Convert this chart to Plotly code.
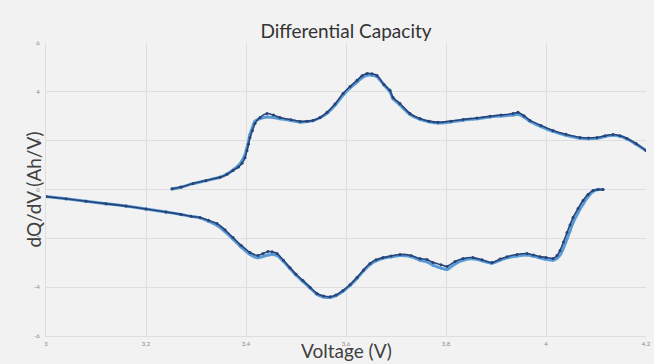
import plotly.graph_objects as go

# Charge (upper) curve, cycle A (dark) and cycle B (light)
charge_v = [3.252, 3.27, 3.294, 3.32, 3.348, 3.362, 3.374, 3.385, 3.392, 3.398, 3.402, 3.405, 3.408, 3.413, 3.418,
            3.428, 3.442, 3.455, 3.468, 3.49, 3.508, 3.522, 3.534, 3.548, 3.562, 3.578, 3.594, 3.608, 3.622,
            3.632, 3.642, 3.652, 3.662, 3.676, 3.688, 3.694, 3.708, 3.728, 3.748, 3.766, 3.784, 3.81, 3.834,
            3.862, 3.888, 3.91, 3.934, 3.944, 3.956, 3.968, 3.99, 4.014, 4.04, 4.068, 4.085, 4.102, 4.118,
            4.134, 4.148, 4.162, 4.18, 4.2]
charge_a = [0.03, 0.1, 0.25, 0.37, 0.5, 0.62, 0.78, 0.92, 1.07, 1.3, 1.6, 1.85, 2.13, 2.42, 2.7,
            2.95, 3.11, 3.05, 2.95, 2.86, 2.79, 2.8, 2.83, 2.95, 3.16, 3.5, 3.93, 4.22, 4.47,
            4.66, 4.75, 4.74, 4.67, 4.3, 4.06, 3.77, 3.52, 3.11, 2.91, 2.8, 2.75, 2.8, 2.87,
            2.93, 3.0, 3.05, 3.11, 3.16, 3.02, 2.83, 2.62, 2.42, 2.26, 2.13, 2.11, 2.13, 2.2,
            2.25, 2.2, 2.09, 1.88, 1.6]
charge_b = [0.02, 0.09, 0.24, 0.36, 0.5, 0.63, 0.8, 0.98, 1.18, 1.42, 1.72, 1.98, 2.26, 2.55, 2.8,
            2.9, 2.97, 2.95, 2.9, 2.83, 2.76, 2.78, 2.82, 2.94, 3.12, 3.45, 3.86, 4.16, 4.4,
            4.58, 4.68, 4.68, 4.62, 4.28, 4.0, 3.72, 3.46, 3.07, 2.87, 2.77, 2.72, 2.77, 2.84,
            2.9, 2.97, 3.01, 3.05, 3.08, 2.96, 2.79, 2.58, 2.38, 2.22, 2.1, 2.08, 2.1, 2.17,
            2.22, 2.18, 2.07, 1.86, 1.6]

# Discharge (lower) curve
discharge_v = [3.0, 3.04, 3.08, 3.12, 3.16, 3.2, 3.24, 3.27, 3.29, 3.308, 3.325, 3.342, 3.358, 3.374, 3.39,
               3.408, 3.424, 3.434, 3.444, 3.452, 3.462, 3.475, 3.488, 3.5, 3.514, 3.528, 3.542, 3.555, 3.568,
               3.58, 3.594, 3.608, 3.622, 3.635, 3.648, 3.66, 3.674, 3.69, 3.708, 3.73, 3.748, 3.762, 3.774,
               3.79, 3.802, 3.818, 3.834, 3.854, 3.872, 3.892, 3.908, 3.922, 3.942, 3.962, 3.975, 3.988, 4.0,
               4.014, 4.022, 4.028, 4.035, 4.042, 4.048, 4.054, 4.064, 4.074, 4.084, 4.094, 4.104, 4.114]
discharge_a = [-0.29, -0.38, -0.48, -0.58, -0.68, -0.8, -0.92, -1.02, -1.1, -1.15, -1.26, -1.39, -1.65, -1.97, -2.28,
               -2.58, -2.7, -2.62, -2.54, -2.55, -2.62, -2.9, -3.2, -3.47, -3.73, -4.0, -4.26, -4.36, -4.39,
               -4.32, -4.14, -3.9, -3.6, -3.3, -3.03, -2.88, -2.79, -2.72, -2.66, -2.7, -2.83, -2.87, -2.99,
               -3.08, -3.15, -2.95, -2.83, -2.79, -2.88, -2.99, -2.85, -2.75, -2.66, -2.62, -2.68, -2.75, -2.78,
               -2.83, -2.7, -2.5, -2.15, -1.76, -1.45, -1.15, -0.78, -0.45, -0.2, -0.04, 0.0, 0.0]
discharge_b = [-0.29, -0.38, -0.48, -0.58, -0.68, -0.8, -0.92, -1.02, -1.1, -1.16, -1.3, -1.46, -1.72, -2.03, -2.35,
               -2.66, -2.8, -2.74, -2.68, -2.66, -2.7, -2.95, -3.24, -3.5, -3.77, -4.03, -4.3, -4.4, -4.42,
               -4.35, -4.17, -3.93, -3.64, -3.34, -3.08, -2.92, -2.82, -2.76, -2.7, -2.75, -2.9, -2.96, -3.1,
               -3.22, -3.28, -3.05, -2.9, -2.84, -2.92, -3.02, -2.9, -2.8, -2.72, -2.68, -2.73, -2.8, -2.86,
               -2.9, -2.82, -2.68, -2.4, -2.02, -1.7, -1.36, -0.95, -0.6, -0.3, -0.08, 0.0, 0.0]

x_ticks = [3, 3.2, 3.4, 3.6, 3.8, 4, 4.2]
x_tick_text = ["3", "3.2", "3.4", "3.6", "3.8", "4", "4.2"]
y_ticks = [-6, -4, -2, 0, 2, 4, 6]
y_tick_text = ["-6", "-4", "-2", "0", "2", "4", "6"]

light = "#5b9bd5"
dark = "#264478"

fig = go.Figure()
for v, y, c, w in [(charge_v, charge_b, light, 3.0), (discharge_v, discharge_b, light, 3.0),
                   (charge_v, charge_a, dark, 1.6), (discharge_v, discharge_a, dark, 1.6)]:
    fig.add_trace(go.Scatter(x=v, y=y, mode="lines+markers",
                             line=dict(color=c, width=w, shape="spline", smoothing=0.6),
                             marker=dict(color=c, size=3),
                             showlegend=False, hoverinfo="skip"))

grid = "#dedede"
fig.update_layout(
    width=654, height=364,
    paper_bgcolor="#f2f2f2", plot_bgcolor="#f2f2f2",
    margin=dict(l=46, r=8, t=43, b=28, autoexpand=False),
    font=dict(family="Lato, sans-serif", color="#404040"),
    title=dict(text="Differential Capacity", x=0.529, xanchor="center", y=0.915, yanchor="middle",
               font=dict(size=19, color="#333333")),
    xaxis=dict(range=[3, 4.2], tickvals=x_ticks, ticktext=x_tick_text, showgrid=True, gridcolor=grid,
               gridwidth=1, zeroline=False, showline=True, linecolor=grid, mirror=False,
               tickfont=dict(size=6, color="#8a8a8a"), ticks="", ticklabelstandoff=2),
    yaxis=dict(range=[-6, 6], tickvals=y_ticks, ticktext=y_tick_text, showgrid=True, gridcolor=grid,
               gridwidth=1, zeroline=False, showline=True, linecolor=grid,
               tickfont=dict(size=6, color="#8a8a8a"), ticks="", ticklabelstandoff=4),
    annotations=[
        dict(text="Voltage (V)", x=0.5, xref="paper", y=0, yref="paper", yshift=-14, xanchor="center",
             yanchor="middle", showarrow=False, font=dict(size=19, color="#404040")),
        dict(text="dQ/dV (Ah/V)", x=0, xref="paper", xshift=-13, y=0.5, yref="paper", xanchor="center",
             yanchor="middle", showarrow=False, textangle=-90, font=dict(size=19, color="#404040")),
    ],
)

fig.write_html("out.html", config={"displayModeBar": False},
               post_script="document.body.style.margin='0';document.body.style.overflow='hidden';"
                           "document.body.style.background='#f2f2f2';")
